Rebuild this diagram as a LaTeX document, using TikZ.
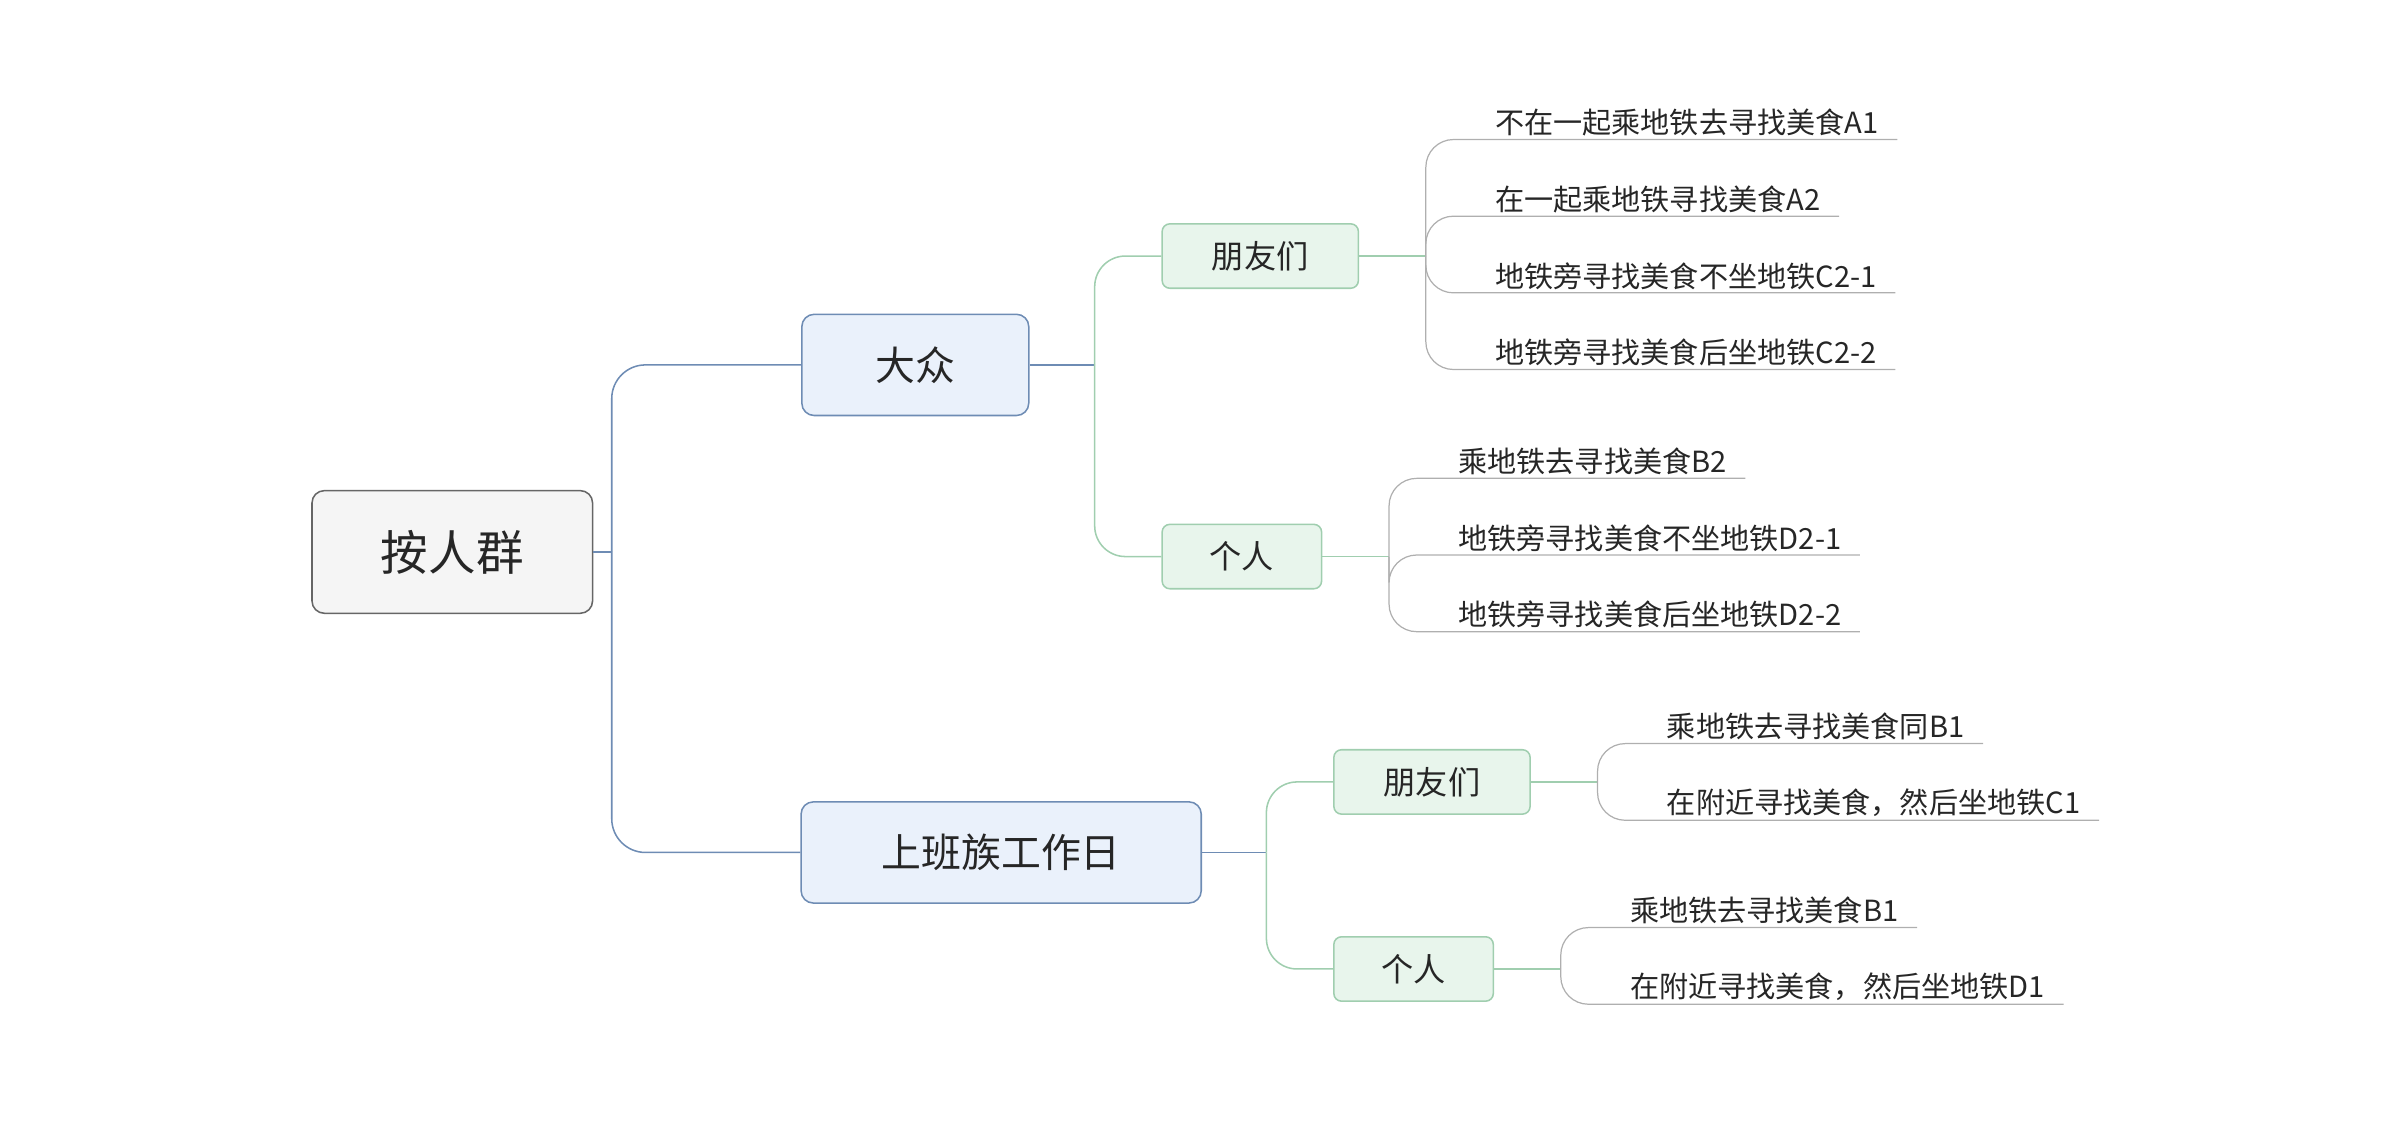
\documentclass[tikz,border=0pt]{standalone}
\usepackage{fontspec}
\setmainfont{Noto Sans CJK SC}
\definecolor{bline}{RGB}{110,140,180}
\definecolor{bfill}{RGB}{234,241,251}
\definecolor{gline}{RGB}{160,206,175}
\definecolor{gfill}{RGB}{232,245,236}
\definecolor{lline}{RGB}{175,175,175}
\begin{document}
\begin{tikzpicture}[x=1pt,y=-1pt,
  box/.style={draw,rounded corners=8pt,line width=1pt,inner sep=0pt,text=black!85},
  root/.style={box,fill=black!4,draw=black!60,minimum width=183pt,minimum height=80pt,font=\fontsize{31}{33}\selectfont},
  lvA/.style={box,fill=bfill,draw=bline,minimum height=66pt,font=\fontsize{26}{28}\selectfont},
  lvB/.style={box,rounded corners=5pt,fill=gfill,draw=gline,minimum height=42pt,font=\fontsize{21}{23}\selectfont},
  leaf/.style={anchor=south west,inner sep=2pt,inner xsep=0pt,font=\fontsize{19}{21}\selectfont,text=black!85},
  bl/.style={draw=bline,line width=1pt,rounded corners=22pt},
  gl/.style={draw=gline,line width=1pt,rounded corners=20pt},
  ll/.style={draw=lline,line width=0.8pt,rounded corners=18pt}]
\useasboundingbox (0,0) rectangle (1568,732);
\node[root] (r) at (295,360) {按人群};
\node[lvA,minimum width=148pt] (a) at (597,238) {大众};
\node[lvA,minimum width=261pt] (b) at (653,556) {上班族工作日};
\node[lvB,minimum width=128pt] (a1) at (822,167) {朋友们};
\node[lvB,minimum width=104pt] (a2) at (810,363) {个人};
\node[lvB,minimum width=128pt] (b1) at (934,510) {朋友们};
\node[lvB,minimum width=104pt] (b2) at (922,632) {个人};
\coordinate (rj) at (399,360);
\draw[bl,rounded corners=0pt] (r.east) -- (rj);
\draw[bl] (rj) -- (399,238) -- (a.west);
\draw[bl] (rj) -- (399,556) -- (b.west);
\coordinate (aj) at (714,238);
\draw[gl,draw=bline,rounded corners=0pt] (a.east) -- (aj);
\draw[gl] (aj) -- (714,167) -- (a1.west);
\draw[gl] (aj) -- (714,363) -- (a2.west);
\coordinate (bj) at (826,556);
\draw[gl,draw=bline,rounded corners=0pt] (b.east) -- (bj);
\draw[gl] (bj) -- (826,510) -- (b1.west);
\draw[gl] (bj) -- (826,632) -- (b2.west);
% leaves
\node[leaf] (l1) at (975,91) {不在一起乘地铁去寻找美食A1};
\node[leaf] (l2) at (975,141) {在一起乘地铁寻找美食A2};
\node[leaf] (l3) at (975,191) {地铁旁寻找美食不坐地铁C2-1};
\node[leaf] (l4) at (975,241) {地铁旁寻找美食后坐地铁C2-2};
\node[leaf] (m1) at (951,312) {乘地铁去寻找美食B2};
\node[leaf] (m2) at (951,362) {地铁旁寻找美食不坐地铁D2-1};
\node[leaf] (m3) at (951,412) {地铁旁寻找美食后坐地铁D2-2};
\node[leaf] (n1) at (1087,485) {乘地铁去寻找美食同B1};
\node[leaf] (n2) at (1087,535) {在附近寻找美食，然后坐地铁C1};
\node[leaf] (o1) at (1063,605) {乘地铁去寻找美食B1};
\node[leaf] (o2) at (1063,655) {在附近寻找美食，然后坐地铁D1};
\foreach \p/\bx/\py/\ls in {a1/930/167/{l1,l2,l3,l4}, a2/906/363/{m1,m2,m3}, b1/1042/510/{n1,n2}, b2/1018/632/{o1,o2}}{
  \draw[ll,draw=gline,rounded corners=0pt] (\p.east) -- (\bx,\py);
  \foreach \l in \ls {
    \draw[ll] (\bx,\py) |- ([xshift=12pt]\l.south east);
  }
}
\end{tikzpicture}
\end{document}
